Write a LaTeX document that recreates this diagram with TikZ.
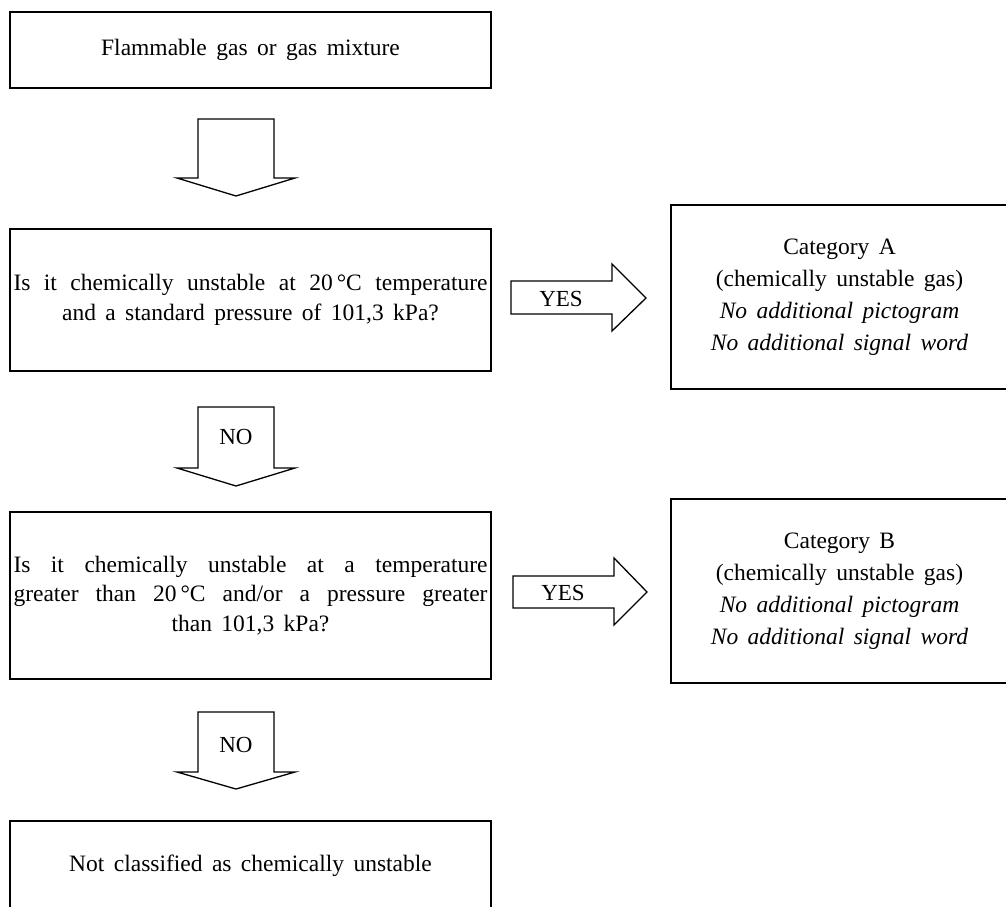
\documentclass[tikz,border=0pt]{standalone}
\usepackage{fontspec}
\setmainfont{Liberation Serif}[WordSpace=1.6]
\begin{document}
\begin{tikzpicture}[x=1pt,y=-1pt,
  box/.style={draw, line width=1.6pt, inner sep=0pt, align=center, font=\fontsize{23.5pt}{29.5pt}\selectfont},
  catbox/.style={box, font=\fontsize{23.5pt}{32pt}\selectfont},
  blockarrow/.style={draw, line width=1.3pt, line join=miter, fill=white},
  lbl/.style={inner sep=0pt, font=\fontsize{23pt}{26pt}\selectfont}]
\useasboundingbox (0,0) rectangle (1006,906);
% boxes
\node[box, minimum width=481pt, minimum height=76pt] (start) at (250.5,50) {Flammable gas or gas mixture};
\node[box, minimum width=481pt, minimum height=142pt] (q1) at (250.5,300)
  {\makebox[474pt][s]{Is it chemically unstable at 20\,°C temperature}\\ and a standard pressure of 101,3 kPa?};
\node[box, minimum width=481pt, minimum height=167pt] (q2) at (250.5,595.5)
  {\makebox[474pt][s]{Is it chemically unstable at a temperature}\\ \makebox[474pt][s]{greater than 20\,°C and/or a pressure greater}\\ than 101,3 kPa?};
\node[box, minimum width=481pt, minimum height=89pt] (notcl) at (250.5,865.5) {Not classified as chemically unstable};
\node[catbox, minimum width=337pt, minimum height=184pt] (catA) at (839.5,297)
  {Category A\\ (chemically unstable gas)\\ \textit{No additional pictogram}\\ \textit{No additional signal word}};
\node[catbox, minimum width=337pt, minimum height=184pt] (catB) at (839.5,591)
  {Category B\\ (chemically unstable gas)\\ \textit{No additional pictogram}\\ \textit{No additional signal word}};
% block arrows
\draw[blockarrow] (198,119) -- (274,119) -- (274,178) -- (295,178) -- (236,196) -- (177,178) -- (198,178) -- cycle;
\draw[blockarrow] (198,407) -- (274,407) -- (274,468) -- (295,468) -- (236,486) -- (177,468) -- (198,468) -- cycle;
\node[lbl] (no1) at (236,437) {NO};
\draw[blockarrow] (198,712) -- (274,712) -- (274,772) -- (295,772) -- (236,789) -- (177,772) -- (198,772) -- cycle;
\node[lbl] (no2) at (236,745) {NO};
\draw[blockarrow] (511,281) -- (612,281) -- (612,264) -- (646,298) -- (612,331) -- (612,314) -- (511,314) -- cycle;
\node[lbl] (yes1) at (561,299) {YES};
\draw[blockarrow] (513,576) -- (614,576) -- (614,558) -- (647,592) -- (614,625) -- (614,608) -- (513,608) -- cycle;
\node[lbl] (yes2) at (563,593) {YES};
\end{tikzpicture}
\end{document}
